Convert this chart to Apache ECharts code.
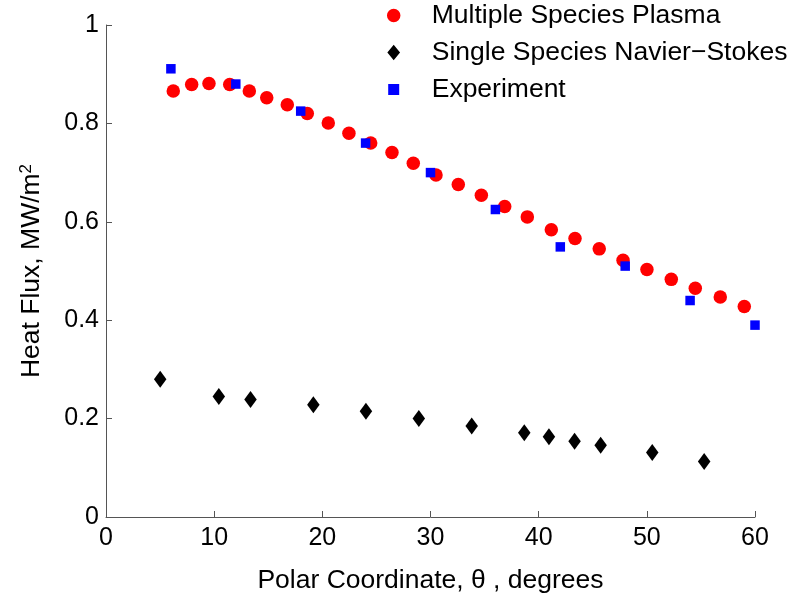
<!DOCTYPE html>
<html>
<head>
<meta charset="utf-8">
<script src="https://cdn.jsdelivr.net/npm/echarts@6/dist/echarts.min.js"></script>
<style>
html,body{margin:0;padding:0;background:#fff;}
#chart{width:791px;height:602px;}
</style>
</head>
<body>
<div id="chart"></div>
<script>
// Multiple Species Plasma (red circles)
const plasmaX = [6.22, 7.92, 9.52, 11.44, 13.25, 14.86, 16.76, 18.61, 20.55, 22.46, 24.47, 26.44, 28.41, 30.51, 32.57, 34.70, 36.86, 38.95, 41.17, 43.36, 45.60, 47.80, 50.01, 52.26, 54.48, 56.79, 59.01];
const plasmaY = [0.866, 0.879, 0.881, 0.879, 0.866, 0.852, 0.838, 0.820, 0.801, 0.780, 0.760, 0.741, 0.719, 0.695, 0.676, 0.654, 0.631, 0.610, 0.584, 0.566, 0.545, 0.522, 0.503, 0.483, 0.465, 0.447, 0.428];
// Single Species Navier-Stokes (black diamonds)
const nsX = [5.01, 10.43, 13.36, 19.17, 24.03, 28.92, 33.81, 38.67, 40.95, 43.32, 45.73, 50.5, 55.3];
const nsY = [0.280, 0.245, 0.239, 0.228, 0.215, 0.200, 0.185, 0.171, 0.163, 0.154, 0.146, 0.131, 0.113];
// Experiment (blue squares)
const expX = [6, 12, 18, 24, 30, 36, 42, 48, 54, 60];
const expY = [0.911, 0.880, 0.825, 0.760, 0.700, 0.625, 0.549, 0.510, 0.440, 0.390];

const seriesNames = ['Multiple Species Plasma', 'Single Species Navier\u2212Stokes', 'Experiment'];
const xTicks = [0, 10, 20, 30, 40, 50, 60];
const yTicks = [0, 0.2, 0.4, 0.6, 0.8, 1];

const zip = (xs, ys) => xs.map((x, i) => [x, ys[i]]);
const FONT = "'Liberation Sans', Arial, Helvetica, sans-serif";

// legend icons drawn inside a fixed 16x16 box (corner points keep the box size)
const BOX = 'M0,0L0,0ZM16,16L16,16Z';
const legendIcons = [
  'path://' + BOX + 'M1.25,8a6.75,6.75 0 1,0 13.5,0a6.75,6.75 0 1,0 -13.5,0Z',
  'path://' + BOX + 'M8,0.15L14.35,8L8,15.85L1.65,8Z',
  'path://' + BOX + 'M2.5,2.5L13.5,2.5L13.5,13.5L2.5,13.5Z'
];

const chart = echarts.init(document.getElementById('chart'));
chart.setOption({
  animation: false,
  backgroundColor: '#fff',
  textStyle: { fontFamily: FONT },
  grid: { left: 106, right: 36, top: 25, bottom: 85, containLabel: false },
  legend: {
    orient: 'vertical',
    left: 385.7,
    top: 2,
    padding: 0,
    itemWidth: 16,
    itemHeight: 16,
    itemGap: 10,
    textStyle: { fontFamily: FONT, fontSize: 26.5, color: '#000', padding: [0, 0, 0, 25] },
    data: seriesNames.map((n, i) => ({ name: n, icon: legendIcons[i] }))
  },
  xAxis: {
    type: 'value',
    min: xTicks[0],
    max: xTicks[xTicks.length - 1],
    interval: 10,
    name: 'Polar Coordinate, \u03b8 , degrees',
    nameLocation: 'middle',
    nameGap: 50,
    nameTextStyle: { fontFamily: FONT, fontSize: 26.5, color: '#000' },
    axisLine: { show: true, lineStyle: { color: '#555', width: 1 } },
    axisTick: { show: true, inside: true, length: 6, lineStyle: { color: '#555' } },
    axisLabel: { fontFamily: FONT, fontSize: 25, color: '#000', margin: 9 },
    splitLine: { show: false }
  },
  yAxis: {
    type: 'value',
    min: yTicks[0],
    max: yTicks[yTicks.length - 1],
    interval: 0.2,
    name: 'Heat Flux, MW/m{sup|2}',
    nameLocation: 'middle',
    nameGap: 60,
    nameTextStyle: {
      fontFamily: FONT, fontSize: 26.5, color: '#000',
      rich: { sup: { fontFamily: FONT, fontSize: 17, color: '#000', verticalAlign: 'top', padding: [0, 0, 11, 0] } }
    },
    axisLine: { show: true, lineStyle: { color: '#555', width: 1 } },
    axisTick: { show: true, inside: true, length: 6, lineStyle: { color: '#555' } },
    axisLabel: {
      fontFamily: FONT, fontSize: 25, color: '#000', margin: 7,
      formatter: v => (Math.round(v * 10) / 10).toString()
    },
    splitLine: { show: false }
  },
  series: [
    {
      name: seriesNames[0], type: 'scatter', symbol: 'circle', symbolSize: 13.5,
      itemStyle: { color: '#ff0000', opacity: 1 }, data: zip(plasmaX, plasmaY), z: 2
    },
    {
      name: seriesNames[1], type: 'scatter', symbol: 'diamond', symbolSize: [12.5, 17],
      itemStyle: { color: '#000000', opacity: 1 }, data: zip(nsX, nsY), z: 3
    },
    {
      name: seriesNames[2], type: 'scatter', symbol: 'rect', symbolSize: 9.5,
      itemStyle: { color: '#0000ff', opacity: 1 }, data: zip(expX, expY), z: 4
    }
  ]
});
</script>
</body>
</html>
